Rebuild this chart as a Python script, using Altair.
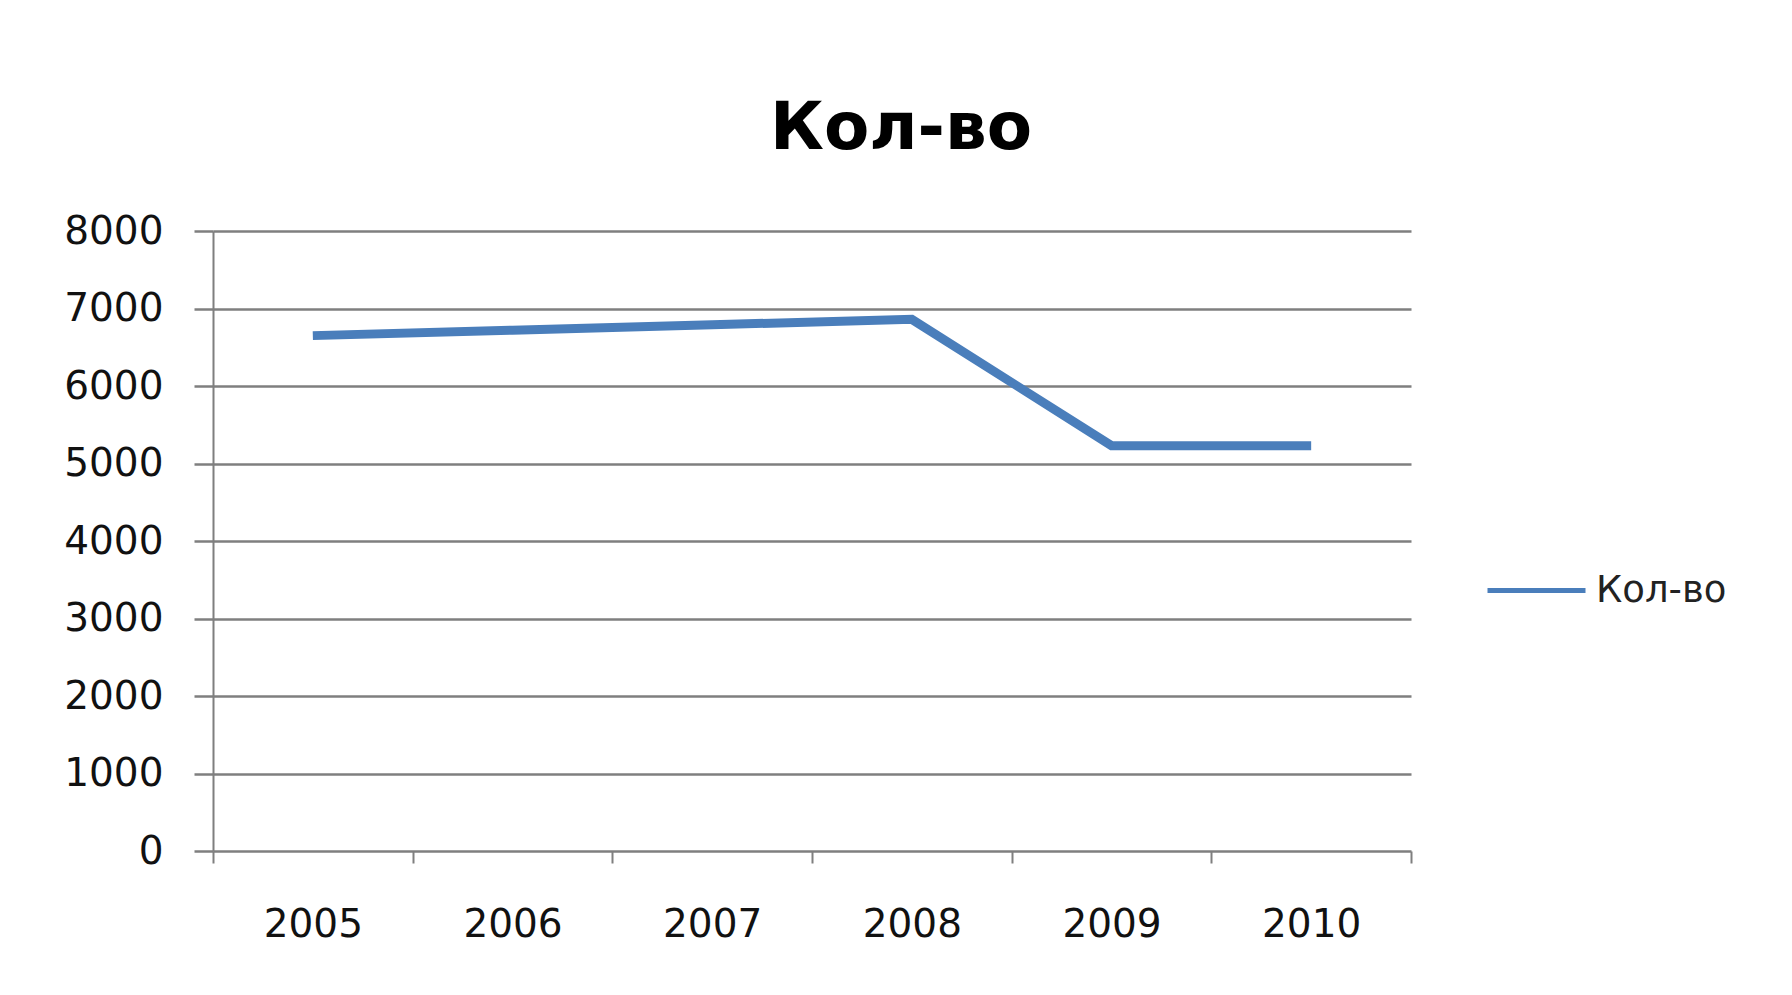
import altair as alt
import pandas as pd

years = ["2005", "2006", "2007", "2008", "2009", "2010"]
values = [6650, 6720, 6790, 6860, 5230, 5230]
series = ["Кол-во"] * len(years)
y_ticks = [0, 1000, 2000, 3000, 4000, 5000, 6000, 7000, 8000]

df = pd.DataFrame({"year": years, "value": values, "series": series})

FONT = "DejaVu Sans"
GRID = "#7f7f7f"

chart = alt.Chart(df).mark_line(strokeWidth=9, strokeCap="butt", strokeJoin="miter").encode(
    x=alt.X(
        "year:O",
        bandPosition=0.5,
        scale=alt.Scale(type="band", paddingInner=0, paddingOuter=0),
        axis=alt.Axis(
            title=None, labelAngle=0, tickBand="extent", domain=False, grid=False,
            ticks=True, tickSize=12, tickColor=GRID, tickWidth=2,
            labelFont=FONT, labelFontSize=39, labelColor="#111111", labelPadding=42,
        ),
    ),
    y=alt.Y(
        "value:Q",
        scale=alt.Scale(domain=[0, 8000], nice=False),
        axis=alt.Axis(
            title=None, values=y_ticks, format="d", grid=True, gridColor=GRID, gridWidth=2.5,
            tickSize=19, tickColor=GRID, tickWidth=2.5, domain=True, domainColor=GRID,
            domainWidth=2, labelFont=FONT, labelFontSize=39, labelColor="#111111",
            labelPadding=31,
        ),
    ),
    color=alt.Color(
        "series:N",
        scale=alt.Scale(range=["#4a7ebb"]),
        legend=alt.Legend(
            title=None, orient="none", legendX=1272, legendY=308, padding=0,
            symbolType="stroke", symbolSize=9604, symbolStrokeWidth=5,
            labelFont=FONT, labelFontSize=37, labelColor="#222222", labelOffset=8,
        ),
    ),
).properties(
    width=1198,
    height=620,
    title=alt.Title(
        "Кол-во", font=FONT, fontSize=66, fontWeight="bold", color="#000000",
        anchor="middle", dx=89, offset=49,
    ),
    autosize=alt.AutoSizeParams(type="none"),
    padding={"left": 205, "top": 223, "right": 373, "bottom": 136},
    background="white",
).configure_view(stroke=None)

chart.save("out.html", embed_options={"renderer": "svg", "actions": False})
